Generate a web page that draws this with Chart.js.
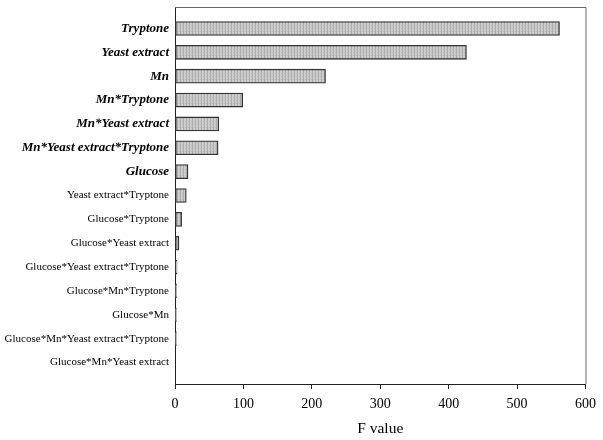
<!DOCTYPE html>
<html>
<head>
<meta charset="utf-8">
<script src="https://cdn.jsdelivr.net/npm/chart.js@4"></script>
<style>
  body { margin: 0; background: #fff; }
  #wrap { width: 603px; height: 440px; }
</style>
</head>
<body>
<div id="wrap"><canvas id="chart"></canvas></div>
<script>
const FACTORS = [
  "Tryptone",
  "Yeast extract",
  "Mn",
  "Mn*Tryptone",
  "Mn*Yeast extract",
  "Mn*Yeast extract*Tryptone",
  "Glucose",
  "Yeast extract*Tryptone",
  "Glucose*Tryptone",
  "Glucose*Yeast extract",
  "Glucose*Yeast extract*Tryptone",
  "Glucose*Mn*Tryptone",
  "Glucose*Mn",
  "Glucose*Mn*Yeast extract*Tryptone",
  "Glucose*Mn*Yeast extract"
];
const F_VALUES = [562, 426, 220, 99, 64, 63, 19, 16.5, 9.7, 5.8, 3, 2.2, 2, 2, 0];
const SIGNIFICANT = 7; // first 7 factors printed bold italic
const X_TICKS = [0, 100, 200, 300, 400, 500, 600];

// stippled grey fill like the printed figure
function makePattern() {
  const c = document.createElement("canvas");
  c.width = 3; c.height = 3;
  const g = c.getContext("2d");
  g.fillStyle = "#cdcdcd";
  g.fillRect(0, 0, 3, 3);
  g.fillStyle = "#adadad";
  g.fillRect(0, 0, 1, 3);
  g.fillStyle = "#bdbdbd";
  g.fillRect(2, 1, 1, 1);
  return g.createPattern(c, "repeat");
}

const boxPlugin = {
  id: "box",
  afterDraw(chart) {
    const { ctx, chartArea: a } = chart;
    ctx.save();
    ctx.strokeStyle = "#666";
    ctx.lineWidth = 1;
    ctx.beginPath();
    ctx.moveTo(a.left, a.top + 0.5);
    ctx.lineTo(a.right + 0.5, a.top + 0.5);
    ctx.lineTo(a.right + 0.5, a.bottom);
    ctx.stroke();
    ctx.restore();
  }
};

const points = FACTORS.map((f, i) => ({ x: F_VALUES[i], y: i }));

new Chart(document.getElementById("chart"), {
  type: "bar",
  data: {
    datasets: [{
      data: points,
      backgroundColor: makePattern(),
      borderColor: "#333",
      borderWidth: 1.3,
      borderSkipped: false,
      barThickness: 14
    }]
  },
  options: {
    indexAxis: "y",
    responsive: true,
    maintainAspectRatio: false,
    animation: false,
    layout: { padding: { top: 7, right: 15, bottom: 0, left: 0 } },
    plugins: { legend: { display: false }, tooltip: { enabled: false } },
    scales: {
      x: {
        type: "linear",
        min: 0,
        max: 600,
        afterBuildTicks: (s) => { s.ticks = X_TICKS.map(v => ({ value: v })); },
        afterFit: (s) => { s.height = 56; },
        grid: { drawOnChartArea: false, color: "#222", tickLength: 5 },
        border: { color: "#222", width: 1 },
        ticks: {
          color: "#000",
          padding: 7,
          maxRotation: 0,
          font: { family: "'Liberation Serif', serif", size: 14 }
        },
        title: {
          display: true,
          text: "F value",
          color: "#000",
          padding: { top: 0, bottom: 2 },
          font: { family: "'Liberation Serif', serif", size: 15.5 }
        }
      },
      y: {
        type: "linear",
        reverse: true,
        offset: false,
        grace: 0,
        bounds: "data",
        min: -0.9,
        max: 14.9,
        afterBuildTicks: (s) => { s.ticks = FACTORS.map((f, i) => ({ value: i })); },
        afterFit: (s) => { s.width = 175; s.paddingTop = 0; s.paddingBottom = 0; },
        grid: { display: false, drawTicks: false, tickLength: 0 },
        border: { color: "#222", width: 1 },
        ticks: {
          color: "#000",
          padding: 6,
          autoSkip: false,
          callback: (v) => FACTORS[v],
          font: (ctx) => ctx.index < SIGNIFICANT
            ? { family: "'Liberation Serif', serif", size: 13, weight: "bold", style: "italic" }
            : { family: "'Liberation Serif', serif", size: 11 }
        }
      }
    }
  },
  plugins: [boxPlugin]
});
</script>
</body>
</html>
